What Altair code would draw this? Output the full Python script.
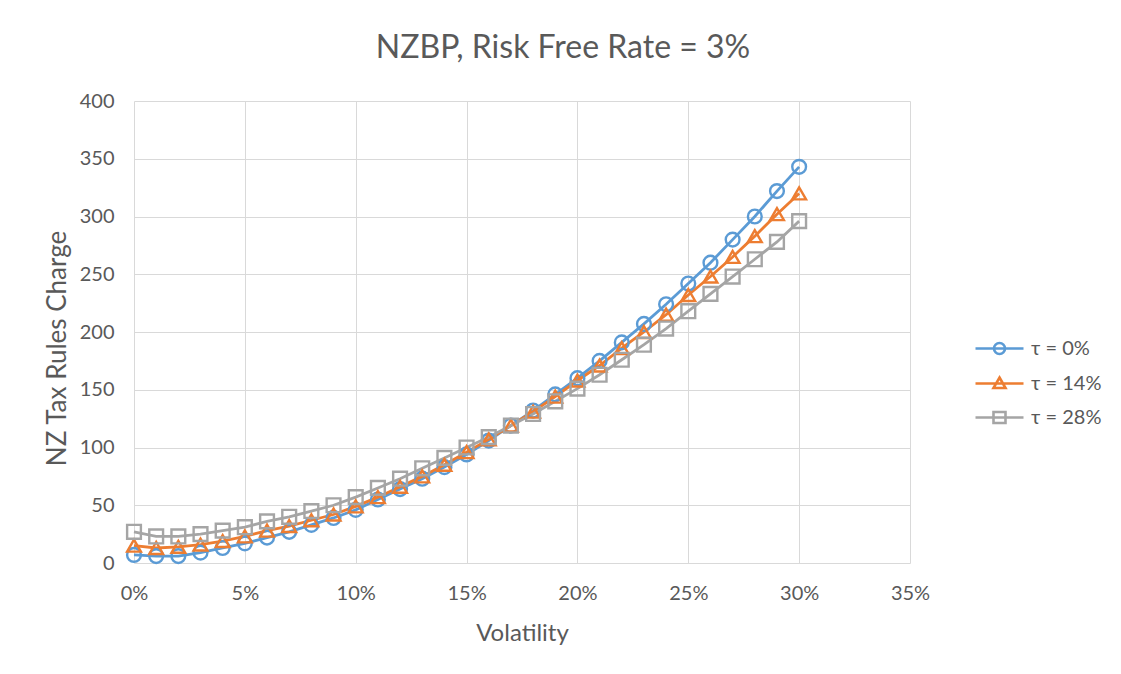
import altair as alt
import pandas as pd

vol_pct = [0, 1, 2, 3, 4, 5, 6, 7, 8, 9, 10, 11, 12, 13, 14, 15, 16, 17, 18, 19, 20,
           21, 22, 23, 24, 25, 26, 27, 28, 29, 30]
tau0 = [7, 6, 6, 9, 13, 17, 22, 27, 33, 39, 46, 55, 64, 73, 83, 94, 106, 119, 132, 146,
        160, 175, 191, 207, 224, 242, 260, 280, 300, 322, 343]
tau14 = [15, 13, 14, 16, 19, 23, 28, 32, 37, 42, 49, 57, 66, 75, 85, 96, 107, 119, 131, 144,
         158, 171, 186, 200, 215, 232, 248, 265, 283, 302, 320]
tau28 = [27, 23, 23, 25, 28, 31, 36, 40, 45, 50, 57, 65, 73, 82, 91, 100, 109, 119, 129, 140,
         151, 163, 176, 189, 203, 218, 233, 248, 263, 278, 296]
series_names = ["τ = 0%", "τ = 14%", "τ = 28%"]
colors = ["#5B9BD5", "#ED7D31", "#A5A5A5"]
shapes = ["circle", "triangle-up", "square"]
legend_shapes = [
    "M-3.8,0L1,0M-0.85,0A0.55,0.55,0,1,1,-1.95,0A0.55,0.55,0,1,1,-0.85,0",
    "M-3.8,0L1,0M-1.4,-0.6L-0.8,0.45L-2,0.45Z",
    "M-3.8,0L1,0M-2,-0.55L-0.8,-0.55L-0.8,0.55L-2,0.55Z",
]

rows = []
for name, vals in zip(series_names, [tau0, tau14, tau28]):
    for v, y in zip(vol_pct, vals):
        rows.append({"vol": v / 100, "charge": y, "series": name})
df = pd.DataFrame(rows)

FONT = "Lato"
GREY = "#595959"

x = alt.X("vol:Q", title="Volatility",
          scale=alt.Scale(domain=[0, 0.35], nice=False),
          axis=alt.Axis(values=[0, 0.05, 0.1, 0.15, 0.2, 0.25, 0.3, 0.35], format=".0%",
                        ticks=False, domain=False, labelFlush=False,
                        labelPadding=20, titlePadding=18))
y = alt.Y("charge:Q", title="NZ Tax Rules Charge",
          scale=alt.Scale(domain=[0, 400], nice=False),
          axis=alt.Axis(values=[0, 50, 100, 150, 200, 250, 300, 350, 400],
                        ticks=False, domain=False, labelFlush=False,
                        labelPadding=20, titlePadding=9, titleFontSize=26, titleY=247))

color_nolegend = alt.Color("series:N", scale=alt.Scale(domain=series_names, range=colors),
                           legend=None)

legend_props = dict(title=None, orient="none", legendX=868, legendY=236,
                    symbolSize=400, symbolStrokeWidth=2.6, symbolOpacity=1,
                    labelFontSize=20, labelColor=GREY, labelFont=FONT,
                    labelOffset=6, padding=0,
                    symbolFillColor="transparent")

base = alt.Chart(df)
lines = base.mark_line(strokeWidth=2.8).encode(x=x, y=y, color=color_nolegend)
points = base.mark_point(filled=False, size=190, strokeWidth=2.4, opacity=1).encode(
    x=x, y=y, color=color_nolegend,
    shape=alt.Shape("series:N", scale=alt.Scale(domain=series_names, range=shapes), legend=None),
)
legend_layer = base.mark_point(filled=False, opacity=0).encode(
    x=x, y=y,
    color=alt.Color("series:N", scale=alt.Scale(domain=series_names, range=colors),
                    legend=alt.Legend(**legend_props)),
    shape=alt.Shape("series:N", scale=alt.Scale(domain=series_names, range=legend_shapes),
                    legend=alt.Legend(**legend_props)),
)

chart = alt.layer(lines, points, legend_layer).resolve_scale(
    shape="independent"
).resolve_legend(color="independent", shape="independent").properties(
    width=776, height=462,
    title=alt.TitleParams("NZBP, Risk Free Rate = 3%", fontSize=32, font=FONT, color=GREY,
                          fontWeight="normal", offset=26, dx=41),
    padding={"left": 126, "top": 93, "right": 203, "bottom": 103},
    autosize=alt.AutoSizeParams(type="none"),
).configure_axis(
    labelFont=FONT, labelFontSize=20, labelColor=GREY,
    titleFont=FONT, titleFontSize=24, titleColor=GREY, titleFontWeight="normal",
    gridColor="#D9D9D9", gridWidth=1,
).configure_legend(rowPadding=12).configure_view(stroke=None)

chart.save("out.html", embed_options={"renderer": "svg", "actions": False})
